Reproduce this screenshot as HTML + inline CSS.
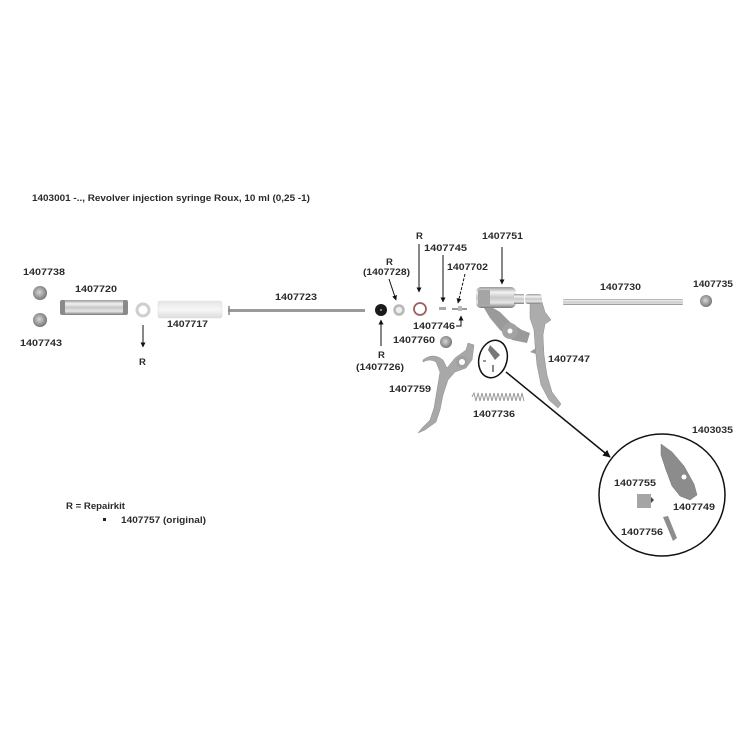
<!DOCTYPE html>
<html><head><meta charset="utf-8"><style>
html,body{margin:0;padding:0;background:#fff;}
svg{display:block;}
text{font-family:"Liberation Sans",sans-serif;font-weight:bold;fill:#2b2b2b;font-size:9.5px;}
</style></head><body>
<svg width="750" height="750" viewBox="0 0 750 750" xmlns="http://www.w3.org/2000/svg">
<defs>
<linearGradient id="metal" x1="0" y1="0" x2="0" y2="1">
<stop offset="0" stop-color="#9a9a9a"/><stop offset="0.25" stop-color="#f2f2f2"/><stop offset="0.5" stop-color="#c8c8c8"/><stop offset="0.75" stop-color="#e6e6e6"/><stop offset="1" stop-color="#7a7a7a"/>
</linearGradient>
<linearGradient id="glass" x1="0" y1="0" x2="0" y2="1">
<stop offset="0" stop-color="#e4e4e4"/><stop offset="0.5" stop-color="#f7f7f7"/><stop offset="1" stop-color="#dcdcdc"/>
</linearGradient>
<radialGradient id="nut" cx="0.45" cy="0.45" r="0.6">
<stop offset="0" stop-color="#d6d6d6"/><stop offset="0.6" stop-color="#999"/><stop offset="1" stop-color="#6a6a6a"/>
</radialGradient>
<marker id="ah" viewBox="0 0 10 10" refX="9" refY="5" markerWidth="5" markerHeight="5" orient="auto">
<path d="M0,0 L10,5 L0,10 z" fill="#111"/>
</marker>
</defs>

<!-- title -->
<text x="32" y="201" textLength="278" lengthAdjust="spacingAndGlyphs">1403001 -.., Revolver injection syringe Roux, 10 ml (0,25 -1)</text>

<!-- left parts -->
<text x="23" y="275" textLength="42" lengthAdjust="spacingAndGlyphs">1407738</text>
<circle cx="40" cy="293" r="7" fill="url(#nut)"/>
<circle cx="40" cy="320" r="7" fill="url(#nut)"/>
<text x="20" y="346" textLength="42" lengthAdjust="spacingAndGlyphs">1407743</text>

<text x="75" y="292" textLength="42" lengthAdjust="spacingAndGlyphs">1407720</text>
<rect x="60" y="300" width="68" height="15" rx="3" fill="url(#metal)"/>
<rect x="60" y="300" width="5" height="15" rx="2" fill="#8a8a8a"/>
<rect x="123" y="300" width="5" height="15" rx="2" fill="#8a8a8a"/>

<circle cx="143" cy="310" r="6" fill="#fff" stroke="#cfcfcf" stroke-width="3"/>
<line x1="143" y1="325" x2="143" y2="347" stroke="#111" stroke-width="1" marker-end="url(#ah)"/>
<text x="139" y="365">R</text>

<rect x="158" y="301" width="64" height="17" rx="2" fill="url(#glass)" stroke="#e0e0e0" stroke-width="0.6"/>
<text x="167" y="327" textLength="41" lengthAdjust="spacingAndGlyphs">1407717</text>

<rect x="228" y="309" width="137" height="3" fill="#9a9a9a"/>
<line x1="229" y1="306" x2="229" y2="315" stroke="#888" stroke-width="1.5"/>
<text x="275" y="300" textLength="42" lengthAdjust="spacingAndGlyphs">1407723</text>

<!-- small seals -->
<circle cx="381" cy="310" r="6" fill="#1a1a1a"/>
<circle cx="381" cy="310" r="1" fill="#aaa"/>
<circle cx="399" cy="310" r="4.5" fill="#eee" stroke="#b8b8b8" stroke-width="2.5"/>
<circle cx="420" cy="309" r="6" fill="none" stroke="#9c6060" stroke-width="1.8"/>
<rect x="439" y="307" width="7" height="3" fill="#aaa"/>
<rect x="452" y="308" width="15" height="2" fill="#999"/>
<rect x="458" y="306" width="4" height="5" fill="#bbb"/>

<text x="386" y="265">R</text>
<text x="363" y="275" textLength="47" lengthAdjust="spacingAndGlyphs">(1407728)</text>
<line x1="389" y1="279" x2="396" y2="300" stroke="#111" stroke-width="1" marker-end="url(#ah)"/>

<text x="416" y="239">R</text>
<line x1="419" y1="244" x2="419" y2="292" stroke="#111" stroke-width="1" marker-end="url(#ah)"/>

<text x="424" y="251" textLength="43" lengthAdjust="spacingAndGlyphs">1407745</text>
<line x1="443" y1="255" x2="443" y2="302" stroke="#111" stroke-width="1" marker-end="url(#ah)"/>

<text x="447" y="270" textLength="41" lengthAdjust="spacingAndGlyphs">1407702</text>
<line x1="465" y1="274" x2="458" y2="303" stroke="#111" stroke-width="1" stroke-dasharray="3,1.5" marker-end="url(#ah)"/>

<text x="413" y="329" textLength="42" lengthAdjust="spacingAndGlyphs">1407746</text>
<path d="M456,326 L461,326 L461,316" fill="none" stroke="#111" stroke-width="1" marker-end="url(#ah)"/>

<text x="393" y="343" textLength="42" lengthAdjust="spacingAndGlyphs">1407760</text>
<circle cx="446" cy="342" r="6" fill="url(#nut)"/>

<line x1="381" y1="346" x2="381" y2="320" stroke="#111" stroke-width="1" marker-end="url(#ah)"/>
<text x="378" y="358">R</text>
<text x="356" y="370" textLength="48" lengthAdjust="spacingAndGlyphs">(1407726)</text>

<!-- gun body -->
<text x="482" y="239" textLength="41" lengthAdjust="spacingAndGlyphs">1407751</text>
<line x1="502" y1="247" x2="502" y2="284" stroke="#111" stroke-width="1" marker-end="url(#ah)"/>

<path d="M488,305 L500,312 L510,322 L522,330 L530,333 L527,343 L512,340 L500,330 L490,318 L484,308 Z" fill="#9a9a9a"/>
<circle cx="510" cy="331" r="8" fill="#a2a2a2"/>
<circle cx="510" cy="331" r="2.5" fill="#fff"/>
<path d="M530,302 L542,302 L545,312 L551,320 L545,324 L543,335 L544,355 L547,375 L552,392 L561,404 L558,408 L549,400 L541,385 L537,365 L535,345 L534,330 L530,318 Z" fill="#acacac" stroke="#8e8e8e" stroke-width="0.5"/>
<path d="M536,348 L530,352 L536,354 Z" fill="#9a9a9a"/>
<rect x="476" y="287" width="40" height="21" rx="5" fill="url(#metal)"/>
<rect x="478" y="290" width="12" height="15" fill="#a5a5a5"/>
<rect x="514" y="294" width="10" height="10" fill="url(#metal)"/>
<rect x="525" y="294" width="17" height="10" rx="3" fill="url(#metal)"/>

<text x="548" y="362" textLength="42" lengthAdjust="spacingAndGlyphs">1407747</text>

<!-- right bar -->
<text x="600" y="290" textLength="41" lengthAdjust="spacingAndGlyphs">1407730</text>
<rect x="563" y="299" width="120" height="6" rx="1" fill="url(#metal)"/>
<text x="693" y="287" textLength="40" lengthAdjust="spacingAndGlyphs">1407735</text>
<circle cx="706" cy="301" r="6" fill="url(#nut)"/>

<!-- left handle 1407759 -->
<path d="M423,360 Q433,352 443,360 L447,368 L455,358 L466,350 L468,343 L474,345 L472,360 L466,368 L455,372 L448,380 L443,395 L440,410 L436,422 L425,430 L418,433 L422,428 L430,420 L434,408 L437,390 L440,372 L436,362 Q430,358 423,362 Z" fill="#a8a8a8" stroke="#8e8e8e" stroke-width="0.5"/>
<circle cx="462" cy="362" r="6" fill="#a0a0a0"/>
<circle cx="462" cy="362" r="3" fill="#fff"/>
<text x="389" y="392" textLength="42" lengthAdjust="spacingAndGlyphs">1407759</text>

<!-- spring -->
<path d="M472,397 l2,-4 l2,8 l2,-8 l2,8 l2,-8 l2,8 l2,-8 l2,8 l2,-8 l2,8 l2,-8 l2,8 l2,-8 l2,8 l2,-8 l2,8 l2,-8 l2,8 l2,-8 l2,8 l2,-8 l2,8 l2,-8 l2,8 l2,-8 l2,8" fill="none" stroke="#9a9a9a" stroke-width="1"/>
<text x="473" y="417" textLength="42" lengthAdjust="spacingAndGlyphs">1407736</text>

<!-- magnifier oval -->
<path d="M490,345 L500,355 L495,360 L488,350 Z" fill="#777"/>
<rect x="483" y="360" width="3" height="2" fill="#999"/>
<rect x="492" y="365" width="2" height="7" fill="#888"/>
<ellipse cx="493" cy="359" rx="14" ry="19" transform="rotate(15 493 359)" fill="none" stroke="#111" stroke-width="1.5"/>
<line x1="506" y1="372" x2="610" y2="457" stroke="#111" stroke-width="1.5" marker-end="url(#ah)"/>

<!-- detail circle -->
<text x="692" y="433" textLength="41" lengthAdjust="spacingAndGlyphs">1403035</text>
<ellipse cx="662" cy="495" rx="63" ry="61" fill="none" stroke="#111" stroke-width="1.5"/>
<path d="M661,444 L672,452 L684,466 L694,484 L697,495 L690,500 L680,496 L672,486 L666,470 L661,455 Z" fill="#8c8c8c" stroke="#777" stroke-width="0.5"/>
<circle cx="684" cy="477" r="2.5" fill="#fff"/>
<text x="614" y="486" textLength="42" lengthAdjust="spacingAndGlyphs">1407755</text>
<rect x="637" y="494" width="14" height="14" fill="#a5a5a5"/>
<path d="M651,497 L654,500 L651,503 Z" fill="#444"/>
<text x="673" y="510" textLength="42" lengthAdjust="spacingAndGlyphs">1407749</text>
<path d="M663,517 L668,516 L677,538 L673,541 Z" fill="#8d8d8d"/>
<text x="621" y="535" textLength="42" lengthAdjust="spacingAndGlyphs">1407756</text>

<!-- legend -->
<text x="66" y="509" textLength="59" lengthAdjust="spacingAndGlyphs">R = Repairkit</text>
<rect x="103" y="518" width="3" height="3" fill="#222"/>
<text x="121" y="523" textLength="85" lengthAdjust="spacingAndGlyphs">1407757 (original)</text>
</svg>
</body></html>
